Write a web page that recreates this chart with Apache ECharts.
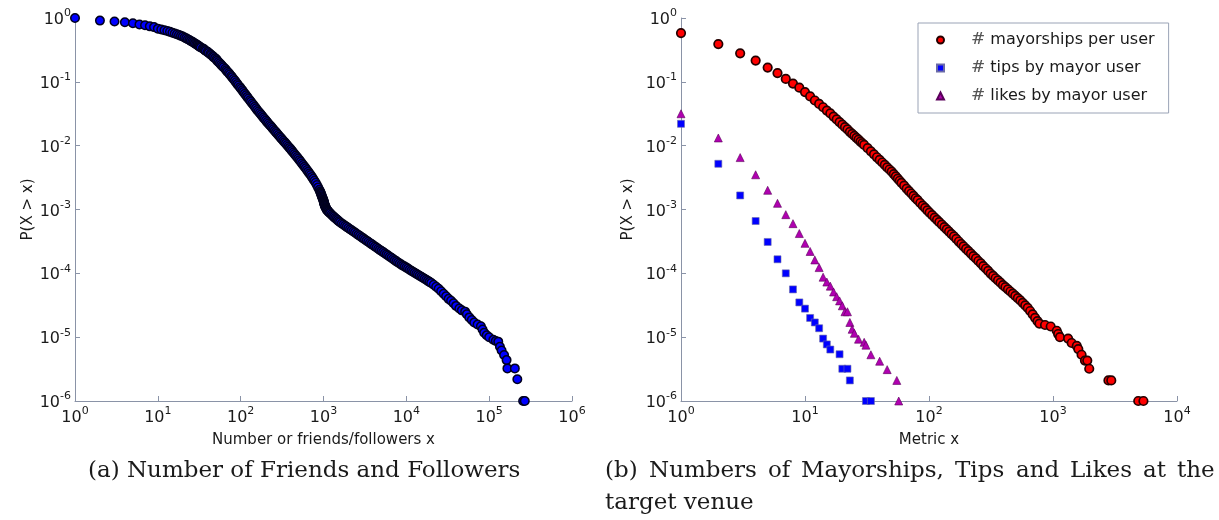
<!DOCTYPE html>
<html><head><meta charset="utf-8">
<script src="https://cdn.jsdelivr.net/npm/echarts@6/dist/echarts.min.js"></script>
<style>html,body{margin:0;padding:0;background:#fff}#c{width:1219px;height:520px}</style>
</head><body><div id="c"></div>
<script>
// ---------- data ----------
const friendsFollowers = [
[1,1.0],[2,0.91],[3,0.88],[4,0.86],[5,0.83],[6,0.79],[7,0.77],[8,0.74],[9,0.72],[10,0.681],
[11,0.661],[12,0.644],[13,0.625],[14,0.607],[15,0.589],[16,0.573],[17,0.556],[18,0.541],[19,0.525],[20,0.512],
[21,0.495],[22,0.48],[23,0.465],[24,0.451],[25,0.438],[26,0.425],[27,0.412],[28,0.4],[29,0.389],[30,0.379],
[31,0.366],[32,0.356],[33,0.345],[35,0.334],[36,0.324],[37,0.314],[38,0.3045],[40,0.295],[41,0.284],[43,0.2735],
[44,0.263],[46,0.2535],[47,0.244],[49,0.235],[51,0.2254],[52,0.2148],[54,0.2046],[56,0.195],[58,0.1858],[60,0.177],
[62,0.1687],[65,0.1603],[67,0.1522],[69,0.1445],[72,0.1373],[74,0.1303],[77,0.1237],[79,0.1175],[82,0.1108],[85,0.1045],
[88,0.0985],[91,0.0929],[94,0.0876],[98,0.0826],[101,0.0779],[105,0.0735],[108,0.0693],[112,0.0653],[116,0.0616],[120,0.0581],
[124,0.0548],[129,0.0516],[133,0.0487],[138,0.0459],[143,0.0433],[148,0.0408],[153,0.0385],[158,0.0363],[164,0.0344],[170,0.0325],
[176,0.0308],[182,0.0291],[188,0.0275],[195,0.0261],[202,0.0247],[209,0.0234],[216,0.0223],[224,0.0211],[232,0.0201],[240,0.01905],
[248,0.01809],[257,0.01718],[266,0.01631],[275,0.01549],[285,0.01471],[295,0.01396],[305,0.01326],[316,0.01259],[327,0.01195],[339,0.01135],
[351,0.01078],[363,0.01023],[376,0.00972],[389,0.00923],[403,0.00875],[417,0.00828],[432,0.00783],[447,0.00741],[462,0.00702],[479,0.00664],
[495,0.00628],[513,0.00593],[531,0.00559],[550,0.00527],[569,0.00497],[589,0.00469],[610,0.00442],[631,0.00417],[653,0.00392],[676,0.00368],
[700,0.00346],[724,0.00324],[750,0.00302],[776,0.00282],[804,0.00262],[832,0.00242],[861,0.00222],[891,0.00203],[912,0.00191],[923,0.00183],
[933,0.00176],[944,0.00169],[955,0.00162],[966,0.00156],[977,0.0015],[989,0.00144],[1000,0.00138],[1006,0.00134],[1012,0.0013],[1017,0.00127],
[1023,0.00123],[1029,0.0012],[1035,0.001175],[1041,0.001148],[1047,0.001122],[1059,0.001089],[1072,0.001054],[1084,0.001023],[1096,0.001],[1109,0.000977],
[1122,0.000955],[1148,0.000927],[1175,0.000897],[1202,0.000871],[1245,0.000834],[1288,0.000799],[1334,0.000767],[1380,0.000738],[1429,0.00071],[1479,0.000682],
[1531,0.000656],[1585,0.000631],[1660,0.000605],[1738,0.000581],[1820,0.000557],[1905,0.000535],[1995,0.000513],[2089,0.000492],[2188,0.000472],[2291,0.000453],
[2399,0.000435],[2512,0.000417],[2630,0.0004],[2754,0.000384],[2884,0.000368],[3020,0.000353],[3162,0.000339],[3311,0.000325],[3467,0.000312],[3631,0.000299],
[3802,0.000287],[3981,0.000275],[4169,0.000264],[4365,0.000254],[4571,0.000243],[4786,0.000233],[5012,0.000224],[5248,0.000215],[5495,0.000206],[5754,0.000198],
[6026,0.00019],[6310,0.000182],[6607,0.000175],[6918,0.000168],[7244,0.000161],[7586,0.000154],[7943,0.000148],[8318,0.000143],[8710,0.000137],[9120,0.000132],
[9550,0.000128],[10000,0.000123],[10470,0.000119],[10960,0.000114],[11480,0.00011],[12020,0.000106],[12590,0.000102],[13180,9.86e-5],[13800,9.51e-5],[14450,9.16e-5],
[15140,8.83e-5],[15850,8.51e-5],[16600,8.2e-5],[17380,7.91e-5],[18200,7.62e-5],[19050,7.35e-5],[19950,7.08e-5],[21380,6.61e-5],[22910,6.17e-5],[24550,5.75e-5],
[26300,5.25e-5],[28180,4.79e-5],[30200,4.37e-5],[32360,3.98e-5],[34670,3.72e-5],[37150,3.39e-5],[39810,3.09e-5],[43650,2.82e-5],[46770,2.63e-5],[51290,2.51e-5],
[53700,2.29e-5],[57540,2.04e-5],[61660,1.86e-5],[66070,1.7e-5],[72440,1.58e-5],[79430,1.48e-5],[83180,1.32e-5],[87100,1.17e-5],[93330,1.07e-5],[100000,1e-5],
[112200,9.12e-6],[120200,8.71e-6],[128800,8.51e-6],[134900,7.08e-6],[141300,6.17e-6],[151400,5.25e-6],[162200,4.37e-6],[166000,3.24e-6],[204200,3.24e-6],[218800,2.19e-6],
[257000,1e-6],[269200,1e-6]
];
const mayorships = [
[1,0.58],[2,0.39],[3,0.28],[4,0.215],[5,0.167],[6,0.137],[7,0.111],[8,0.094],[9,0.081],[10,0.069],
[11,0.059],[12,0.051],[13,0.045],[14,0.04],[15,0.0355],[16,0.032],[17,0.0286],[18,0.0258],[19,0.0233],[20,0.0213],
[21,0.0195],[22,0.018],[23,0.0165],[24,0.0153],[25,0.01425],[26,0.01327],[27,0.01242],[28,0.01161],[29,0.01091],[30,0.01026],
[32,0.00912],[34,0.00815],[36,0.00731],[38,0.00658],[40,0.00597],[42,0.00545],[44,0.00499],[46,0.00457],[48,0.00423],[50,0.00391],
[52,0.00359],[54,0.00331],[56,0.00305],[58,0.00282],[60,0.00262],[63,0.00236],[66,0.00213],[69,0.00194],[72,0.00178],[75,0.00163],
[78,0.0015],[81,0.0014],[85,0.001265],[89,0.001153],[93,0.001057],[97,0.000968],[101,0.000895],[106,0.000817],[111,0.000748],[116,0.000689],
[121,0.000634],[127,0.000578],[133,0.00053],[139,0.000488],[145,0.000451],[152,0.000411],[159,0.000378],[166,0.000347],[174,0.000315],[182,0.000288],
[190,0.000264],[199,0.000241],[208,0.000222],[218,0.000203],[228,0.000186],[239,0.000171],[250,0.000156],[262,0.000143],[274,0.00013],[287,0.000119],
[300,0.000109],[314,9.91e-5],[329,9.1e-5],[344,8.38e-5],[360,7.74e-5],[377,7.13e-5],[395,6.53e-5],[413,6.07e-5],[433,5.61e-5],[453,5.19e-5],
[474,4.8e-5],[496,4.45e-5],[520,4.08e-5],[545,3.76e-5],[570,3.45e-5],[597,3.15e-5],[625,2.87e-5],[654,2.57e-5],[685,2.28e-5],[717,2.01e-5],
[750,1.78e-5],[777,1.63e-5],[862,1.55e-5],[958,1.47e-5],[1072,1.26e-5],[1100,1.12e-5],[1138,1e-5],[1324,9.5e-6],[1415,8.1e-6],[1555,7.3e-6],
[1600,6.5e-6],[1700,5.3e-6],[1810,4.3e-6],[1890,4.3e-6],[1960,3.2e-6],[2800,2.1e-6],[2950,2.1e-6],[4870,1e-6],[5360,1e-6]
];
const tipsX = [1,2,3,4,5,6,7,8,9,10,11,12,13,14,15,16,19,20,22,23,31,34];
const tipsY = [0.022,0.0052,0.00166,6.6e-4,3.1e-4,1.66e-4,1.0e-4,5.6e-5,3.5e-5,2.8e-5,2.0e-5,1.7e-5,1.38e-5,9.5e-6,7.7e-6,6.4e-6,5.4e-6,3.2e-6,3.2e-6,2.1e-6,1e-6,1e-6];
const likesX = [1,2,3,4,5,6,7,8,9,10,11,12,13,14,15,16,17,18,19,20,21,22,23,24,25,27,30,31,34,40,46,55,57];
const likesY = [0.0316,0.0132,0.0065,0.0035,0.002,0.00125,8.3e-4,6.0e-4,4.2e-4,2.95e-4,2.2e-4,1.62e-4,1.23e-4,8.7e-5,7.3e-5,6.3e-5,5.1e-5,4.3e-5,3.7e-5,3.1e-5,2.5e-5,2.5e-5,1.7e-5,1.33e-5,1.15e-5,9.3e-6,8.3e-6,7.5e-6,5.3e-6,4.2e-6,3.1e-6,2.1e-6,1e-6];

const leftXTickExps = [0,1,2,3,4,5,6];
const rightXTickExps = [0,1,2,3,4];
const yTickExps = [0,-1,-2,-3,-4,-5,-6];
const seriesNames = ['# mayorships per user', '# tips by mayor user', '# likes by mayor user'];
const xTitles = ['Number or friends/followers x', 'Metric x'];
const yTitle = 'P(X > x)';
const captionA = '(a) Number of Friends and Followers';
const captionB1 = ['(b)', 'Numbers', 'of', 'Mayorships,', 'Tips', 'and', 'Likes', 'at', 'the'];
const captionB2 = 'target venue';

// ---------- chart ----------
const AX = '#8a93a7';
const TXT = '#1a1a1a';
const CAPFONT = '23px "DejaVu Serif"';
const rich = {
  b: {fontFamily: 'DejaVu Sans', fontSize: 16, color: TXT, lineHeight: 20, verticalAlign: 'bottom'},
  e: {fontFamily: 'DejaVu Sans', fontSize: 11, color: TXT, lineHeight: 12, verticalAlign: 'top'}
};
function powFmt(exps) {
  return function (v) {
    const e = Math.round(Math.log10(v));
    return exps.indexOf(e) >= 0 ? '{b|10}{e|' + e + '}' : '';
  };
}
function xAxisDef(grid, max, exps, title) {
  return {
    gridIndex: grid, type: 'log', logBase: 10, min: 1, max: max,
    axisLine: {show: true, onZero: false, lineStyle: {color: AX, width: 1}},
    axisTick: {show: true, inside: true, length: 5, lineStyle: {color: AX}},
    minorTick: {show: false}, splitLine: {show: false},
    axisLabel: {formatter: powFmt(exps), rich: rich, margin: 5, showMinLabel: true, showMaxLabel: true, hideOverlap: false},
    name: title, nameLocation: 'middle', nameGap: 32,
    nameTextStyle: {fontFamily: 'DejaVu Sans', fontSize: 15, color: TXT}
  };
}
function yAxisDef(grid, gap) {
  return {
    gridIndex: grid, type: 'log', logBase: 10, min: 1e-6, max: 1,
    axisLine: {show: true, onZero: false, lineStyle: {color: AX, width: 1}},
    axisTick: {show: true, inside: true, length: 5, lineStyle: {color: AX}},
    minorTick: {show: false}, splitLine: {show: false},
    axisLabel: {formatter: powFmt(yTickExps), rich: rich, margin: 4, showMinLabel: true, showMaxLabel: true, hideOverlap: false},
    name: yTitle, nameLocation: 'middle', nameGap: gap, nameRotate: 90,
    nameTextStyle: {fontFamily: 'DejaVu Sans', fontSize: 15, color: TXT}
  };
}

// justify the first line of caption (b) between x=605 and x=1215, like the LaTeX caption
const measureCtx = document.createElement('canvas').getContext('2d');
measureCtx.font = CAPFONT;
const wordW = captionB1.map(function (w) { return measureCtx.measureText(w).width; });
const totalW = wordW.reduce(function (a, b) { return a + b; }, 0);
const gapW = (1215 - 605 - totalW) / (captionB1.length - 1);
const capGraphics = [
  {type: 'text', left: 88, top: 460, style: {text: captionA, font: CAPFONT, fill: TXT}},
  {type: 'text', left: 605, top: 492, style: {text: captionB2, font: CAPFONT, fill: TXT}}
];
let cx = 605;
captionB1.forEach(function (w, i) {
  capGraphics.push({type: 'text', left: Math.round(cx), top: 460, style: {text: w, font: CAPFONT, fill: TXT}});
  cx += wordW[i] + gapW;
});

const chart = echarts.init(document.getElementById('c'), null, {renderer: 'canvas'});
chart.setOption({
  animation: false,
  backgroundColor: '#fff',
  grid: [
    {left: 75, top: 18, width: 497, height: 383},
    {left: 681, top: 18, width: 496, height: 383}
  ],
  xAxis: [xAxisDef(0, 1e6, leftXTickExps, xTitles[0]), xAxisDef(1, 1e4, rightXTickExps, xTitles[1])],
  yAxis: [yAxisDef(0, 38), yAxisDef(1, 45)],
  legend: {
    data: seriesNames, orient: 'vertical', left: 918, top: 23,
    padding: [7, 14, 7, 18], itemGap: 8, itemWidth: 7, itemHeight: 7,
    backgroundColor: '#fff', borderColor: '#9aa3b6', borderWidth: 1, borderRadius: 0,
    textStyle: {fontFamily: 'DejaVu Sans', fontSize: 16, color: TXT, lineHeight: 20, padding: [0, 0, 0, 22],
      rich: {h: {fontFamily: 'DejaVu Serif', fontSize: 17, color: '#555', lineHeight: 20}}},
    formatter: function (n) { return '{h|#} ' + n.slice(2); }
  },
  series: [
    {type: 'scatter', name: 'friends', xAxisIndex: 0, yAxisIndex: 0, data: friendsFollowers,
     symbol: 'circle', symbolSize: 8.5,
     itemStyle: {color: '#0000ff', borderColor: '#00001e', borderWidth: 1.5, opacity: 1},
     emphasis: {disabled: true}},
    {type: 'scatter', name: seriesNames[0], xAxisIndex: 1, yAxisIndex: 1, data: mayorships,
     symbol: 'circle', symbolSize: 8.5,
     itemStyle: {color: '#ff0000', borderColor: '#240000', borderWidth: 1.7, opacity: 1},
     emphasis: {disabled: true}},
    {type: 'scatter', name: seriesNames[1], xAxisIndex: 1, yAxisIndex: 1,
     data: tipsX.map(function (x, i) { return [x, tipsY[i]]; }),
     symbol: 'rect', symbolSize: 7,
     itemStyle: {color: '#0000ff', borderColor: '#6a6aa8', borderWidth: 0.6, opacity: 1},
     emphasis: {disabled: true}},
    {type: 'scatter', name: seriesNames[2], xAxisIndex: 1, yAxisIndex: 1,
     data: likesX.map(function (x, i) { return [x, likesY[i]]; }),
     symbol: 'triangle', symbolSize: 8,
     itemStyle: {color: '#b000b0', borderColor: '#5a005a', borderWidth: 0.6, opacity: 1},
     emphasis: {disabled: true}}
  ],
  graphic: capGraphics
});
</script>
</body></html>
